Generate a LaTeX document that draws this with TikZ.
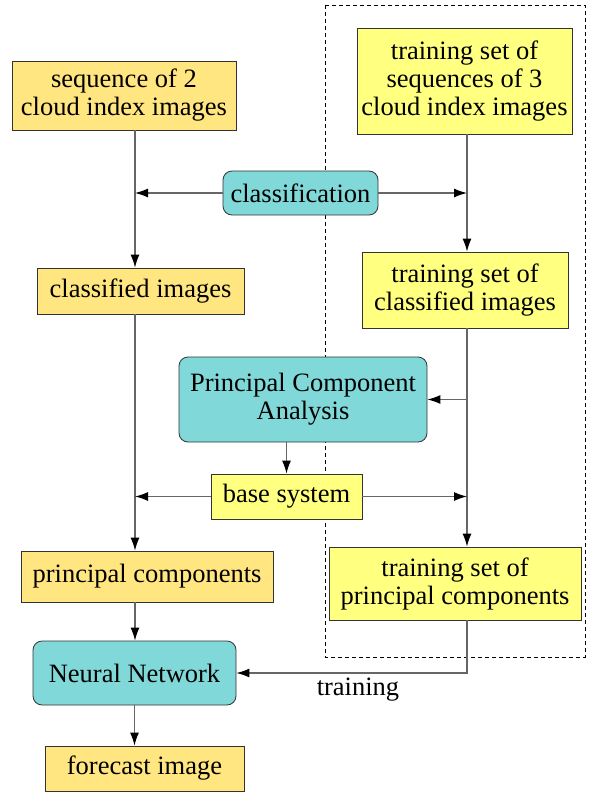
\documentclass[tikz,border=0pt]{standalone}
\usepackage{fontspec}
\setmainfont{Liberation Serif}
\usepackage{tikz}
\usetikzlibrary{arrows.meta, positioning}

\definecolor{inboxcol}{RGB}{255,230,128}
\definecolor{trainboxcol}{RGB}{255,255,128}
\definecolor{proccol}{RGB}{128,216,216}

\begin{document}
\begin{tikzpicture}[
    x=1pt, y=-1pt,
    basebox/.style={draw=black!80, line width=0.8pt, inner sep=2pt, align=center, font=\fontsize{26.5}{28}\selectfont},
    leftbox/.style={basebox, fill=inboxcol},
    rightbox/.style={basebox, fill=trainboxcol},
    procbox/.style={basebox, fill=proccol, rounded corners=9pt},
    arrowstyle/.style={draw=black!60, line width=1.2pt, -{Latex[length=13pt, width=9pt, color=black]}},
]
    \useasboundingbox (0,0) rectangle (591,792);

    % Training part (dashed frame)
    \draw[dashed, dash pattern=on 4pt off 3pt, line width=0.7pt] (325,5) rectangle (585,657);

    % Columns the connectors run along
    \coordinate (lx) at (135,0);
    \coordinate (rx) at (467,0);

    % Left column: forecasting
    \node[leftbox, minimum width=224pt, minimum height=69pt] (seq) at (124,95.5) {sequence of 2\\cloud index images};
    \node[leftbox, minimum width=207pt, minimum height=46pt] (classified) at (140.5,291) {classified images};
    \node[leftbox, minimum width=252pt, minimum height=51pt] (pc) at (147,576.5) {principal components};
    \node[procbox, minimum width=203pt, minimum height=64pt] (nn) at (134.5,673) {Neural Network};
    \node[leftbox, minimum width=199pt, minimum height=45pt] (forecast) at (144.5,768.5) {forecast image};

    % Right column: training set
    \node[rightbox, minimum width=215pt, minimum height=106pt] (tseq) at (464.5,81) {training set of\\sequences of 3\\cloud index images};
    \node[rightbox, minimum width=206pt, minimum height=76pt] (tclassified) at (465,290) {training set of\\classified images};
    \node[rightbox, minimum width=252pt, minimum height=73pt] (tpc) at (455,583.5) {training set of\\principal components};

    % Shared steps in the middle
    \node[procbox, minimum width=155pt, minimum height=44pt] (class) at (300.5,193) {classification};
    \node[procbox, minimum width=248pt, minimum height=85pt] (pca) at (303,399.5) {Principal Component\\Analysis};
    \node[rightbox, minimum width=151pt, minimum height=45pt] (base) at (286.5,496.5) {base system};

    % Left flow
    \draw[arrowstyle] (seq.south -| lx) -- (classified.north -| lx);
    \draw[arrowstyle] (classified.south -| lx) -- (pc.north -| lx);
    \draw[arrowstyle] (pc.south -| lx) -- (nn.north -| lx);
    \draw[arrowstyle] (nn.south) -- (forecast.north -| nn.south);

    % Right flow
    \draw[arrowstyle] (tseq.south -| rx) -- (tclassified.north -| rx);
    \draw[arrowstyle] (tclassified.south -| rx) -- (tpc.north -| rx);
    \draw[arrowstyle] (pca.east -| rx) -- (pca.east);

    % Classification and base system feed both columns
    \draw[arrowstyle] (class.west) -- (class.west -| lx);
    \draw[arrowstyle] (class.east) -- (class.east -| rx);
    \draw[arrowstyle] (pca.south -| base.north) -- (base.north);
    \draw[arrowstyle] (base.west) -- (base.west -| lx);
    \draw[arrowstyle] (base.east) -- (base.east -| rx);

    % Training of the network
    \draw[arrowstyle] (tpc.south -| rx) |- (nn.east);
    \node[font=\fontsize{26.5}{28}\selectfont] (trainlbl) at (358,690) {training};

\end{tikzpicture}
\end{document}
